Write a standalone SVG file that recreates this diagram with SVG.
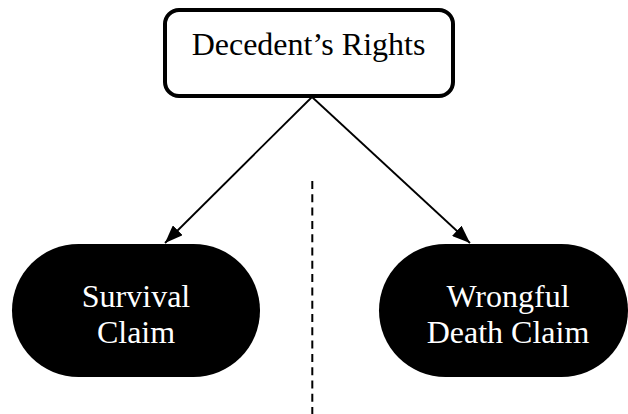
<svg xmlns="http://www.w3.org/2000/svg" width="628" height="414" viewBox="0 0 628 414">
<style>
.lbl{font-family:"Liberation Serif","Times New Roman",serif;font-size:32px;text-anchor:middle}
.pill{fill:#000}
.conn{stroke:#000;stroke-width:1.8;fill:none}
</style>
<defs>
<marker id="ah" viewBox="0 0 18 14" refX="18" refY="7" markerWidth="18" markerHeight="14" markerUnits="userSpaceOnUse" orient="auto">
<path d="M0,0 L18,7 L0,14 Z" fill="#000"/>
</marker>
</defs>
<rect width="628" height="414" fill="#fff"/>
<g id="connectors">
<line class="conn" x1="312" y1="97" x2="165" y2="243" marker-end="url(#ah)"/>
<line class="conn" x1="312" y1="97" x2="470" y2="243" marker-end="url(#ah)"/>
<line x1="312.3" y1="181" x2="312.3" y2="414" stroke="#000" stroke-width="2" stroke-dasharray="8 5.3"/>
</g>
<g id="decedents-rights">
<rect x="165" y="10" width="288" height="86" rx="14" ry="14" fill="#fff" stroke="#000" stroke-width="4"/>
<text class="lbl" x="308.5" y="55">Decedent’s Rights</text>
</g>
<g id="survival-claim">
<rect class="pill" x="12" y="244" width="248" height="133" rx="66.5" ry="66.5"/>
<text class="lbl" x="136" y="307" fill="#fff">Survival</text>
<text class="lbl" x="136" y="343" fill="#fff">Claim</text>
</g>
<g id="wrongful-death-claim">
<rect class="pill" x="379" y="244" width="249" height="133" rx="66.5" ry="66.5"/>
<text class="lbl" x="508" y="307" fill="#fff">Wrongful</text>
<text class="lbl" x="508" y="343" fill="#fff">Death Claim</text>
</g>
</svg>
